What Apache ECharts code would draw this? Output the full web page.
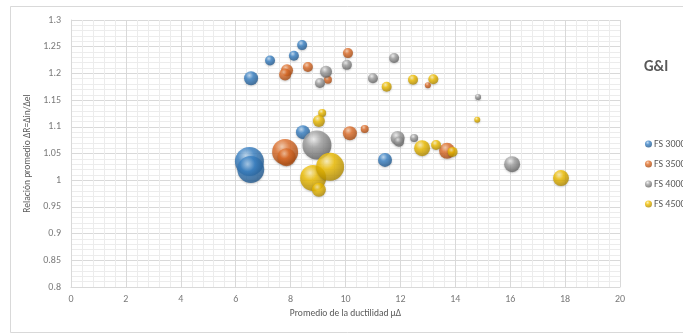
<!DOCTYPE html>
<html>
<head>
<meta charset="utf-8">
<script src="https://cdn.jsdelivr.net/npm/echarts@6/dist/echarts.min.js"></script>
<style>
  html, body { margin: 0; padding: 0; background: #ffffff; }
  #chart { width: 683px; height: 335px; }
</style>
</head>
<body>
<div id="chart"></div>
<script>
// Ductilidad promedio (x), relación ΔR (y) y tamaño de burbuja por serie
const fs3000X = [6.56, 7.25, 8.42, 8.12, 8.45, 6.50, 6.55, 11.44];
const fs3000Y = [1.191, 1.224, 1.253, 1.233, 1.090, 1.035, 1.020, 1.038];
const fs3000S = [49, 25, 25, 25, 49, 210, 180, 49];

const fs3500X = [10.09, 8.63, 7.87, 7.80, 9.36, 13.00, 7.80, 7.85, 10.16, 10.70, 13.70];
const fs3500Y = [1.238, 1.212, 1.206, 1.198, 1.188, 1.178, 1.053, 1.043, 1.088, 1.096, 1.055];
const fs3500S = [25, 25, 36, 36, 16, 9, 169, 81, 49, 16, 64];

const fs4000X = [9.29, 9.07, 10.05, 11.77, 11.00, 14.83, 8.96, 11.90, 11.95, 12.50, 16.07];
const fs4000Y = [1.203, 1.182, 1.216, 1.229, 1.191, 1.156, 1.066, 1.079, 1.072, 1.079, 1.030];
const fs4000S = [36, 25, 25, 25, 25, 9, 210, 49, 25, 16, 64];

const fs4500X = [11.50, 12.46, 13.20, 14.80, 9.15, 9.03, 8.82, 9.44, 9.03, 12.79, 13.30, 13.90, 17.85];
const fs4500Y = [1.175, 1.188, 1.189, 1.113, 1.126, 1.111, 1.004, 1.025, 0.982, 1.060, 1.066, 1.053, 1.004];
const fs4500S = [25, 25, 25, 9, 16, 36, 169, 196, 49, 64, 25, 25, 64];

const seriesNames = ['FS 3000', 'FS 3500', 'FS 4000', 'FS 4500'];
const xTicks = { min: 0, max: 20, interval: 2 };
const yTicks = { min: 0.8, max: 1.3, interval: 0.05 };

// Three-tone shading for each sphere: highlight, base, shadow
const palette = [
  ['#b9d7f2', '#3b84c8', '#1d4f80'],
  ['#f9c9a6', '#e2702b', '#99420c'],
  ['#f2f2f2', '#a3a3a3', '#565656'],
  ['#fff0b0', '#f2c000', '#a37e00']
];

function sphere(c) {
  return new echarts.graphic.RadialGradient(0.38, 0.3, 0.8, [
    { offset: 0, color: c[0] },
    { offset: 0.35, color: c[1] },
    { offset: 1, color: c[2] }
  ]);
}

function pack(xs, ys, ss) {
  return xs.map((x, i) => [x, ys[i], ss[i]]);
}

const dataSets = [
  pack(fs3000X, fs3000Y, fs3000S),
  pack(fs3500X, fs3500Y, fs3500S),
  pack(fs4000X, fs4000Y, fs4000S),
  pack(fs4500X, fs4500Y, fs4500S)
];

const gridColor = '#d9d9d9';
const minorColor = '#ececec';
const textColor = '#595959';
const fontFamily = 'Calibri, Carlito, "Liberation Sans", "DejaVu Sans", sans-serif';

const chart = echarts.init(document.getElementById('chart'), null, { renderer: 'canvas' });

chart.setOption({
  animation: false,
  backgroundColor: '#ffffff',
  textStyle: { fontFamily: fontFamily },
  graphic: [
    {
      type: 'rect',
      shape: { x: 10.5, y: 6.5, width: 690, height: 326 },
      style: { fill: 'none', stroke: '#d9d9d9', lineWidth: 1 },
      silent: true,
      z: -1
    },
    {
      type: 'text',
      left: 644,
      top: 60,
      style: { text: 'G&I', fill: textColor, font: 'bold 15px ' + fontFamily }
    }
  ],
  grid: { left: 71, right: 63, top: 20, bottom: 48 },
  legend: {
    orient: 'vertical',
    left: 640,
    top: 134,
    itemGap: 10,
    itemWidth: 7,
    itemHeight: 7,
    icon: 'circle',
    data: seriesNames,
    textStyle: { color: textColor, fontSize: 10, padding: [0, 0, 0, -3] }
  },
  xAxis: {
    type: 'value',
    min: xTicks.min,
    max: xTicks.max,
    interval: xTicks.interval,
    name: 'Promedio de la ductilidad μΔ',
    nameLocation: 'middle',
    nameGap: 22,
    nameTextStyle: { color: textColor, fontSize: 9.5 },
    axisLine: { show: true, lineStyle: { color: gridColor } },
    axisTick: { show: false },
    axisLabel: { color: '#7a7a7a', fontSize: 10, margin: 7 },
    splitLine: { show: true, lineStyle: { color: gridColor, width: 1 } },
    minorTick: { show: false, splitNumber: 5 },
    minorSplitLine: { show: true, lineStyle: { color: minorColor, width: 1 } }
  },
  yAxis: {
    type: 'value',
    min: yTicks.min,
    max: yTicks.max,
    interval: yTicks.interval,
    name: 'Relación promedio ΔR=Δin/Δel',
    nameLocation: 'middle',
    nameGap: 36,
    nameTextStyle: { color: textColor, fontSize: 9.5 },
    axisLine: { show: true, lineStyle: { color: gridColor } },
    axisTick: { show: false },
    axisLabel: {
      color: '#7a7a7a',
      fontSize: 10,
      margin: 10,
      formatter: v => String(+v.toFixed(2))
    },
    splitLine: { show: true, lineStyle: { color: gridColor, width: 1 } },
    minorTick: { show: false, splitNumber: 5 },
    minorSplitLine: { show: true, lineStyle: { color: minorColor, width: 1 } }
  },
  series: dataSets.map((d, i) => ({
    name: seriesNames[i],
    type: 'scatter',
    data: d,
    symbolSize: v => 2 * Math.sqrt(v[2]),
    itemStyle: {
      color: sphere(palette[i]),
      shadowBlur: 2,
      shadowOffsetY: 1,
      shadowColor: 'rgba(0,0,0,0.25)'
    },
    z: 2 + i
  }))
});
</script>
</body>
</html>
